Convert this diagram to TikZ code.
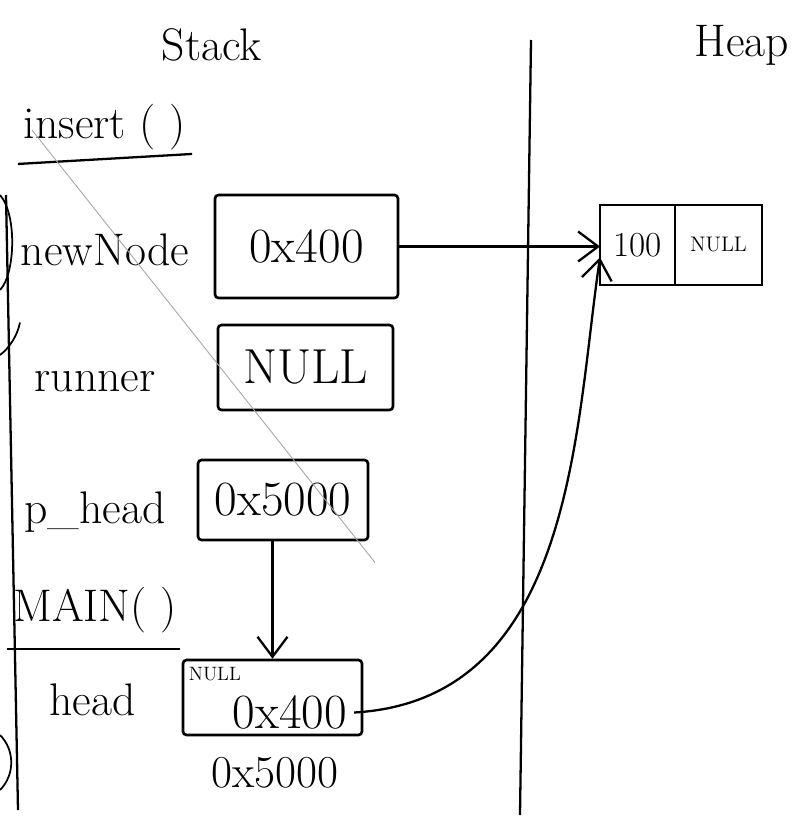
\documentclass[tikz,border=0pt]{standalone}
\usetikzlibrary{arrows.meta, positioning}

\begin{document}
\begin{tikzpicture}[>={Straight Barb[length=4mm,width=6mm]}, line width=1.3pt,
		var/.style={font=\fontsize{26}{30}\selectfont, inner sep=0pt},
		cell/.style={rectangle, draw, rounded corners=2pt, line width=1.5pt, font=\fontsize{28}{32}\selectfont},
		hcell/.style={rectangle, draw, line width=1.5pt, minimum height=1.6cm, inner sep=0pt, outer sep=0pt},
		scrap/.style={line width=1pt}]
		
		\useasboundingbox (0,0) rectangle (16.06,-16.42);
		
		% Titulos
		\node[var] (stack) at (4.24,-0.9) {Stack};
		\node[var] (heap) at (14.84,-0.9) {Heap};
		
		% Separadores
		\coordinate (lt) at (0.12,-3.9);
		\coordinate (lb) at (0.36,-16.2);
		\coordinate (mt) at (10.62,-0.8);
		\coordinate (mb) at (10.4,-16.3);
		\draw (lt) -- (lb);
		\draw (mt) -- (mb);
		
		% insert()
		\node[var] (insert) at (2.1,-2.55) {insert ( )};
		\draw ([shift={(-0.1,-0.25)}]insert.south west) -- ([shift={(0.1,-0.05)}]insert.south east);
		
		\node[var] (lnew) at (2.1,-5.0) {newNode};
		\node[cell, minimum width=3.66cm, minimum height=2.06cm] (newnode) at (6.13,-4.93) {0x400};
		
		\node[var] (lrun) at (1.9,-7.64) {runner};
		\node[cell, minimum width=3.5cm, minimum height=1.7cm] (runner) at (6.11,-7.35) {NULL};
		
		\node[var] (lphead) at (1.9,-10.24) {p\_head};
		\node[cell, minimum width=3.4cm, minimum height=1.6cm] (phead) at (5.66,-10.0) {0x5000};
		
		% main()
		\node[var] (main) at (1.9,-12.2) {MAIN( )};
		\node[var] (lhead) at (1.85,-14.0) {head};
		\node[cell, minimum width=3.58cm, minimum height=1.5cm] (head) at (5.45,-13.95) {};
		\node[font=\fontsize{11}{13}\selectfont, anchor=north west, inner sep=0pt] (hnull) at ([shift={(0.12,-0.15)}]head.north west) {NULL};
		\node[font=\fontsize{28}{32}\selectfont] (hval) at ([shift={(0.35,-0.3)}]head) {0x400};
		\node[var] (haddr) at (5.5,-15.46) {0x5000};
		\draw ([shift={(-0.1,-0.3)}]main.south west) -- ([shift={(0.05,-0.3)}]main.south east);
		
		% Heap
		\node[hcell, minimum width=1.5cm, font=\fontsize{20}{24}\selectfont] (val) at (12.75,-4.9) {100};
		\node[hcell, minimum width=1.74cm, right=0pt of val, font=\fontsize{12}{14}\selectfont] (nxt) {NULL};
		
		% Setas
		\draw[->] (newnode.east) -- (newnode.east -| val.west);
		\draw[->] (head.north |- phead.south) -- (head.north);
		\draw[->] (hval.east) .. controls (11.5,-14.0) and (11.5,-8.5) .. ([yshift=-2.5mm]val.west);
		
		% Rasuras
		\draw[gray!70, line width=0.5pt] (0.64,-2.6) -- (7.5,-11.25);
		\draw[scrap] (0,-3.9) .. controls (0.35,-4.3) and (0.3,-5.5) .. (0,-5.8);
		\draw[scrap] (0,-7.1) .. controls (0.2,-6.95) and (0.35,-6.7) .. (0.4,-6.45);
		\draw[scrap] (0,-14.7) .. controls (0.3,-15.0) and (0.3,-15.5) .. (0,-15.8);
		
	\end{tikzpicture}
\end{document}
